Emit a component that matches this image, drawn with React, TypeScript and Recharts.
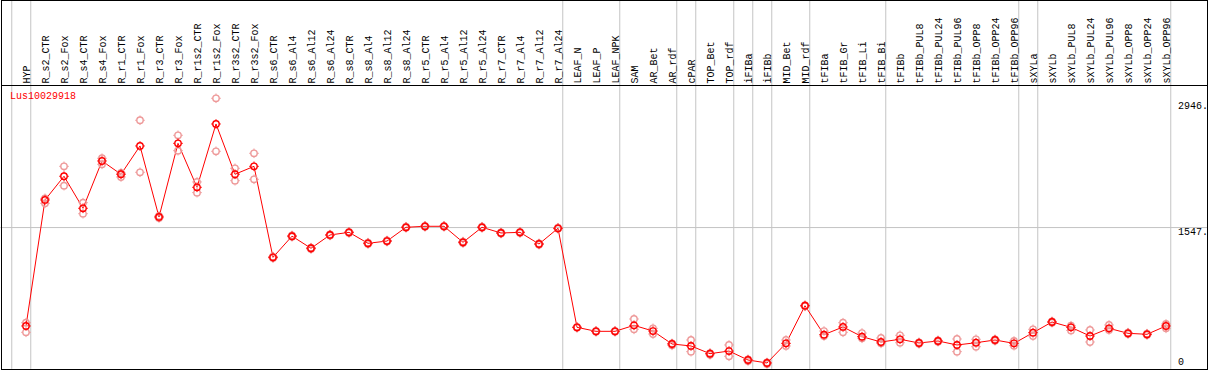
import { LineChart, Line, XAxis, YAxis, ReferenceLine } from 'recharts';

const categories = [
  'HYP',
  'R_s2_CTR', 'R_s2_Fox', 'R_s4_CTR', 'R_s4_Fox', 'R_r1_CTR', 'R_r1_Fox', 'R_r3_CTR', 'R_r3_Fox',
  'R_r1s2_CTR', 'R_r1s2_Fox', 'R_r3s2_CTR', 'R_r3s2_Fox',
  'R_s6_CTR', 'R_s6_Al4', 'R_s6_Al12', 'R_s6_Al24', 'R_s8_CTR', 'R_s8_Al4', 'R_s8_Al12', 'R_s8_Al24',
  'R_r5_CTR', 'R_r5_Al4', 'R_r5_Al12', 'R_r5_Al24', 'R_r7_CTR', 'R_r7_Al4', 'R_r7_Al12', 'R_r7_Al24',
  'LEAF_N', 'LEAF_P', 'LEAF_NPK',
  'SAM', 'AR_Bet', 'AR_rdf',
  'cPAR',
  'TOP_Bet', 'TOP_rdf',
  'iFIBa',
  'iFIBb',
  'MID_Bet', 'MID_rdf',
  'tFIBa', 'tFIB_Gr', 'tFIB_Li', 'tFIB_Bi',
  'tFIBb', 'tFIBb_PUL8', 'tFIBb_PUL24', 'tFIBb_PUL96', 'tFIBb_OPP8', 'tFIBb_OPP24', 'tFIBb_OPP96',
  'sXYLa',
  'sXYLb', 'sXYLb_PUL8', 'sXYLb_PUL24', 'sXYLb_PUL96', 'sXYLb_OPP8', 'sXYLb_OPP24', 'sXYLb_OPP96',
];

// number of categories in each sample group (grey separators between groups)
const groupSizes = [1, 28, 3, 3, 1, 2, 1, 1, 2, 4, 7, 1, 7];

const meanValues = [
  459,
  1852, 2114, 1760, 2283, 2136, 2449, 1664, 2478,
  1992, 2692, 2136, 2224,
  1218, 1452, 1318, 1465, 1494, 1373, 1398, 1550,
  1561, 1561, 1384, 1550, 1487, 1494, 1365, 1539,
  444, 400, 400,
  466, 403, 260,
  238,
  153, 182,
  83,
  50,
  267, 683,
  363, 448, 341, 282,
  312, 271, 293, 249, 274, 304, 267,
  385,
  503, 444, 348, 433, 378, 367, 459,
];

const rep1Values = [
  495,
  1870, 2224, 1822, 2313, 2150, 2733, 1675, 2567,
  2051, 2976, 2202, 2368,
  1225, 1460, 1325, 1470, 1500, 1380, 1404, 1556,
  1566, 1566, 1392, 1556, 1493, 1500, 1372, 1545,
  448, 404, 404,
  536, 433, 266,
  304,
  160, 249,
  90,
  55,
  304, 690,
  403, 495, 381, 326,
  356, 278, 300, 315, 312, 312, 293,
  422,
  510, 462, 415, 470, 385, 374, 481,
];

const rep2Values = [
  389,
  1815, 2010, 1700, 2246, 2106, 2158, 1653, 2397,
  1933, 2390, 2065, 2080,
  1210, 1445, 1310, 1460, 1488, 1366, 1392, 1545,
  1556, 1556, 1376, 1544, 1481, 1488, 1358, 1533,
  440, 396, 396,
  422, 370, 245,
  175,
  141, 124,
  72,
  40,
  238, 676,
  348, 389, 323, 267,
  274, 262, 286, 175, 230, 296, 241,
  348,
  496, 410, 282, 415, 371, 360, 433,
];

const yTicks = [0, 1547, 2946];
const geneName = 'Lus10029918';

const data = categories.map((name, i) => ({
  idx: i,
  name,
  mean: meanValues[i],
  rep1: rep1Values[i],
  rep2: rep2Values[i],
}));

// separator after the last category of each group (plus one before the first)
const separators: number[] = [-1];
groupSizes.reduce((acc, n) => {
  separators.push(acc + n - 1);
  return acc + n;
}, 0);

const FONT = '"Liberation Mono", "DejaVu Sans Mono", monospace';

const Marker = ({ cx, cy, color }) => {
  if (cx == null || cy == null) return null;
  return (
    <g>
      <circle cx={cx} cy={cy} r={3.2} fill="none" stroke={color} strokeWidth={1.4} />
      <path
        d={`M${cx - 4.8},${cy}h1.6M${cx + 3.2},${cy}h1.6M${cx},${cy - 4.8}v1.6M${cx},${cy + 3.2}v1.6`}
        stroke={color}
        strokeWidth={1}
      />
    </g>
  );
};

const CategoryTick = ({ x, payload }) => {
  const tx = Math.round(x) + 3.5;
  return (
    <text
      x={tx}
      y={83.5}
      transform={`rotate(-90, ${tx}, 83.5)`}
      textAnchor="start"
      fontFamily={FONT}
      fontSize={10}
      fill="#000"
    >
      {categories[payload.value]}
    </text>
  );
};

const ValueTick = ({ y, payload }) => (
  <text
    x={1178}
    y={payload.value === 0 ? y - 5 : y + 5}
    dominantBaseline="central"
    fontFamily={FONT}
    fontSize={10}
    fill="#000"
  >
    {payload.value === 0 ? '0' : `${payload.value}.`}
  </text>
);

const App = () => {
  return (
    <div style={{ position: 'absolute', left: 0, top: 0, width: 1209, height: 370, background: '#fff' }}>
      <LineChart width={1209} height={370} data={data} margin={{ top: 7.07, right: 0, bottom: 2.5, left: 7 }}>
        <XAxis
          xAxisId={0}
          dataKey="idx"
          type="number"
          orientation="top"
          height={80}
          domain={[-1, 61]}
          ticks={categories.map((_, i) => i)}
          interval={0}
          axisLine={false}
          tickLine={false}
          tick={CategoryTick}
        />
        <YAxis
          yAxisId={0}
          orientation="right"
          width={24}
          type="number"
          domain={[0, 3100]}
          ticks={yTicks}
          interval={0}
          axisLine={false}
          tickLine={false}
          tick={ValueTick}
        />
        {separators.map((s) => (
          <ReferenceLine
            key={`sep-${s}`}
            segment={[{ x: s + 0.25, y: -15 }, { x: s + 0.25, y: 4200 }]}
            stroke="#c4c4c4"
            strokeWidth={1}
            ifOverflow="visible"
          />
        ))}
        <ReferenceLine
          segment={[{ x: -1.35, y: yTicks[1] }, { x: 62.2, y: yTicks[1] }]}
          stroke="#c4c4c4"
          strokeWidth={1}
          ifOverflow="visible"
        />
        <Line
          dataKey="rep1"
          stroke="none"
          isAnimationActive={false}
          activeDot={false}
          dot={(p) => <Marker key={`r1-${p.index}`} cx={p.cx} cy={p.cy} color="#ee9a9a" />}
        />
        <Line
          dataKey="rep2"
          stroke="none"
          isAnimationActive={false}
          activeDot={false}
          dot={(p) => <Marker key={`r2-${p.index}`} cx={p.cx} cy={p.cy} color="#ee9a9a" />}
        />
        <Line
          type="linear"
          dataKey="mean"
          stroke="#ff0000"
          strokeWidth={1}
          isAnimationActive={false}
          activeDot={false}
          dot={(p) => <Marker key={`m-${p.index}`} cx={p.cx} cy={p.cy} color="#ff0000" />}
        />
      </LineChart>
      <div
        style={{
          position: 'absolute',
          left: 10,
          top: 91,
          fontFamily: FONT,
          fontSize: 10,
          lineHeight: '12px',
          color: '#ff0000',
          whiteSpace: 'nowrap',
        }}
      >
        {geneName}
      </div>
      <div
        style={{
          position: 'absolute',
          left: 1,
          top: 0,
          width: 1207,
          height: 370,
          boxSizing: 'border-box',
          border: '1px solid #000',
          pointerEvents: 'none',
        }}
      />
      <div style={{ position: 'absolute', left: 1, top: 85, width: 1207, height: 1, background: '#000' }} />
    </div>
  );
};

export default App;
